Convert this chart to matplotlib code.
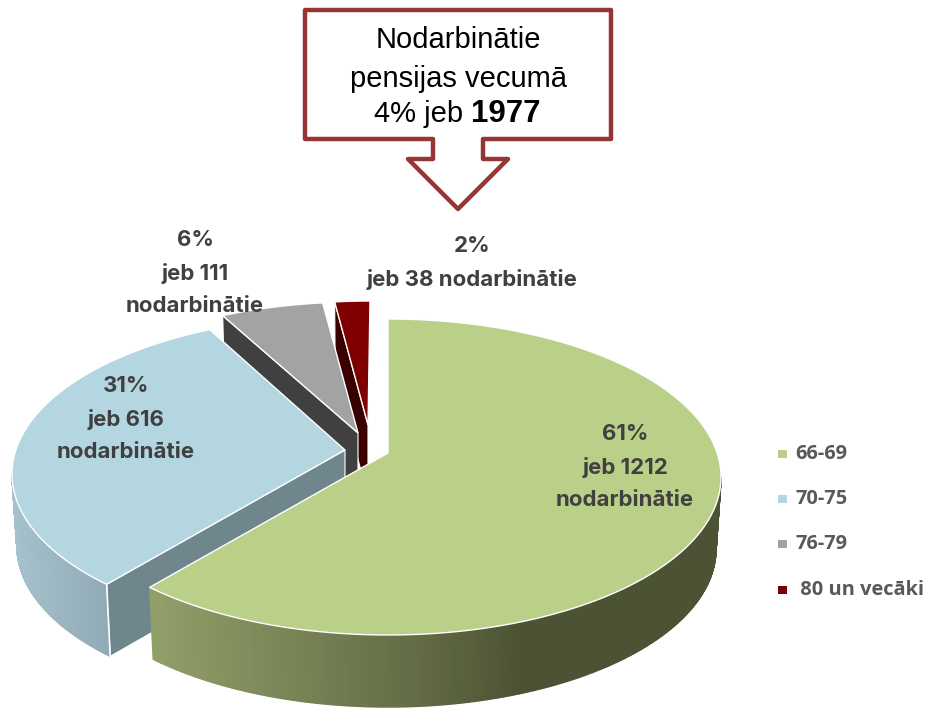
import matplotlib
matplotlib.use("Agg")
import matplotlib.pyplot as plt
import numpy as np
from matplotlib.collections import PolyCollection
from matplotlib.colors import LinearSegmentedColormap
from matplotlib.patches import Polygon, Rectangle

# data
age_groups = ['66-69', '70-75', '76-79', ' 80 un vecāki']
workers = [1212, 616, 111, 38]
percents = [61, 31, 6, 2]
total_workers = 1977
total_percent = 4

# look of the slices, same order as the data
top_colors = ['#bacf88', '#b3d6e0', '#a3a3a3', '#7f0000']
cut_colors = ['#4c5334', '#70868d', '#404040', '#3a0000']
side_colors = [[(0, '#919f69'), (0.73, '#626b44'), (1, '#4c5334')],
               [(0, '#a5c1cc'), (1, '#90aab5')],
               [(0, '#404040'), (1, '#404040')], [(0, '#3a0000'), (1, '#3a0000')]]
side_ranges = [(153, 520), (12, 110), (0, 1), (0, 1)]
centers = [(388, 477), (345, 474), (358, 460), (370, 459)]
apexes = [(388, 453), (345, 450), (358, 433), (368, 425)]
rx, ry = 333, 158
depth = 72
squeeze = 0.985
persp = 0.88

label_pos = [(625, 467), (126, 419), (195, 273), (472, 263)]
label_lines = ['{p}%\njeb {n}\nnodarbinātie', '{p}%\njeb {n}\nnodarbinātie',
               '{p}%\njeb {n}\nnodarbinātie', '{p}%\njeb {n} nodarbinātie']
legend_y = [454, 499, 544, 590]

fig = plt.figure(figsize=(9.26, 7.10), dpi=100)
ax = fig.add_axes([0, 0, 1, 1])
ax.set_xlim(0, 926)
ax.set_ylim(710, 0)
ax.axis('off')


def warp(t):
    # the far half of the pie is squeezed by the perspective
    return 2 * np.arctan2(persp * np.sin(t / 2), np.cos(t / 2)) % (2 * np.pi + 1e-9)


def rim(center, phi, down=0.0, k=1.0):
    return np.column_stack([center[0] + k * rx * np.sin(phi),
                            center[1] - ry * np.cos(phi) + down])


edges = np.cumsum([0] + workers) / sum(workers) * 2 * np.pi

# back slices first, the green one lies over the others
for i in range(len(workers) - 1, -1, -1):
    c = centers[i]
    a = np.array(apexes[i], dtype=float)
    start = warp(edges[i])
    end = warp(edges[i + 1]) if i < len(workers) - 1 else 2 * np.pi
    phi = np.linspace(start, end, 240)

    # cut face at the start of the slice
    p0 = rim(c, np.array([start]))[0]
    p1 = rim(c, np.array([start]), depth, squeeze)[0]
    ax.add_patch(Polygon([a, p0, p1, a + [0, depth]], closed=True, fc=cut_colors[i],
                         ec='white', lw=0.8, zorder=10 + 3 * (3 - i)))

    # outer wall with its gradient, only the front half can be seen
    lo, hi = max(start, np.pi / 2), min(end, 3 * np.pi / 2)
    if hi > lo:
        ph = np.linspace(lo, hi, 220)
        top = rim(c, ph)
        bot = rim(c, ph, depth, squeeze)
        quads = [[top[j], top[j + 1], bot[j + 1], bot[j]] for j in range(len(ph) - 1)]
        xs = (top[:-1, 0] + top[1:, 0]) / 2
        cmap = LinearSegmentedColormap.from_list('wall', side_colors[i])
        t = np.clip((xs - side_ranges[i][0]) / (side_ranges[i][1] - side_ranges[i][0]), 0, 1)
        cols = cmap(t)
        ax.add_collection(PolyCollection(quads, facecolors=cols, edgecolors=cols, lw=1.0,
                                         zorder=11 + 3 * (3 - i)))
        if i == 1:
            ax.plot([p0[0], p1[0]], [p0[1], p1[1]], color='white', lw=1.2,
                    zorder=11.5 + 3 * (3 - i))

    # top face
    pts = np.vstack([a, rim(c, phi)])
    ax.add_patch(Polygon(pts, closed=True, fc=top_colors[i], ec='white', lw=1.0,
                         zorder=12 + 3 * (3 - i)))

# slice labels
for i in range(len(workers)):
    txt = label_lines[i].format(p=percents[i], n=workers[i])
    ax.text(label_pos[i][0], label_pos[i][1], txt, ha='center', va='center', color='#404040',
            family='Inter', fontweight='bold', fontsize=16, linespacing=1.74, zorder=40)

# legend
for i, name in enumerate(age_groups):
    ax.add_patch(Rectangle((778, legend_y[i] - 4), 9, 8, fc=top_colors[i], ec='none', zorder=40))
    ax.text(795, legend_y[i], name, ha='left', va='center', color='#595959',
            family='Open Sans', fontweight='bold', fontsize=14.4, zorder=40)

# callout arrow
callout = [(305, 10), (611, 10), (611, 139), (483, 139), (483, 159), (508, 159),
           (458, 209), (408, 159), (433, 159), (433, 139), (305, 139)]
ax.add_patch(Polygon(callout, closed=True, fc='white', ec='#963634', lw=3.2,
                     joinstyle='round', zorder=30))
ax.text(458, 40, 'Nodarbinātie', ha='center', va='center', family='Liberation Sans',
        fontsize=21, color='black', zorder=41)
ax.text(458, 79, 'pensijas vecumā', ha='center', va='center', family='Liberation Sans',
        fontsize=21, color='black', zorder=41)
ax.text(463, 114, f'{total_percent}% jeb', ha='right', va='center', family='Liberation Sans',
        fontsize=21, color='black', zorder=41)
ax.text(471, 114, str(total_workers), ha='left', va='center', family='Liberation Sans',
        fontweight='bold', fontsize=22.5, color='black', zorder=41)

fig.savefig('out.png', dpi=100)
